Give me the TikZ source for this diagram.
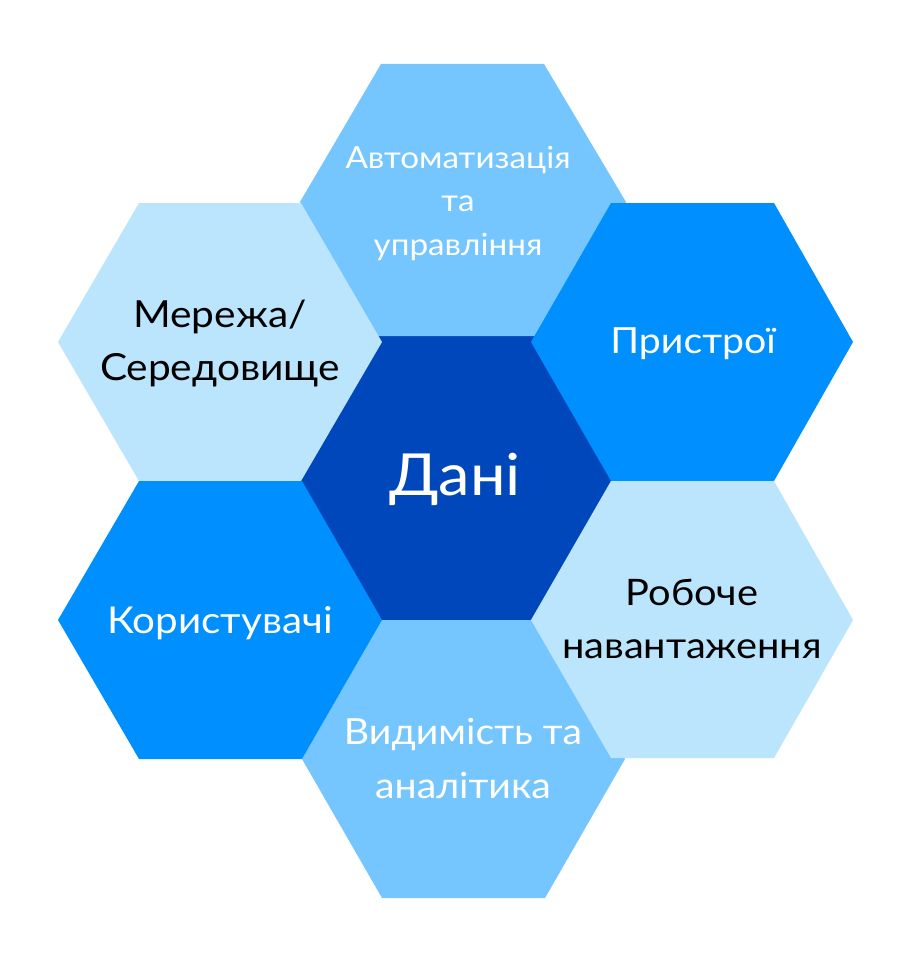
\documentclass[tikz,border=0pt]{standalone}
\usepackage{fontspec}
\setmainfont{Lato}[FakeStretch=1.09]
\definecolor{cDark}{HTML}{0047BB}
\definecolor{cMid}{HTML}{008FFF}
\definecolor{cSky}{HTML}{75C6FE}
\definecolor{cPale}{HTML}{BAE5FD}
\tikzset{
  lbl/.style={inner sep=0pt, align=center, anchor=base},
  lblW/.style={lbl, text=white},
  lblK/.style={lbl, text=black},
}
\begin{document}
\begin{tikzpicture}[x=1pt,y=-1pt]
\fill[white] (0,0) rectangle (913,966);
\useasboundingbox (0,0) rectangle (913,966);
% centre
\fill[cDark] (300,480) -- (378,336) -- (536,336) -- (614,480) -- (536,621) -- (378,621) -- cycle;
% top
\fill[cSky] (300,202) -- (381,64) -- (544,64) -- (626,202) -- (546,336) -- (376,336) -- cycle;
% bottom
\fill[cSky] (302,759) -- (382,620) -- (545,620) -- (625,759) -- (545,898) -- (382,898) -- cycle;
% upper left
\fill[cPale] (58,342) -- (139,203) -- (301,203) -- (382,342) -- (301,481) -- (139,481) -- cycle;
% lower left
\fill[cMid] (58,620) -- (139,481) -- (302,481) -- (382,620) -- (302,759) -- (139,759) -- cycle;
% upper right
\fill[cMid] (531,342) -- (611,203) -- (774,203) -- (853,342) -- (774,481) -- (611,481) -- cycle;
% lower right
\fill[cPale] (531,620) -- (611,481) -- (774,481) -- (853,620) -- (774,758) -- (611,758) -- cycle;

\node[lblW, font=\fontsize{58}{60}\selectfont] (dani) at (455,495) {Дані};
\node[lblW, font=\fontsize{30.5}{43.5}\selectfont] (avto) at (458,255) {Автоматизація\\та\\управління};
\node[lblK, font=\fontsize{37.3}{53}\selectfont] (merezha) at (220,380) {Мережа/\\Середовище};
\node[lblW, font=\fontsize{36}{40}\selectfont] (prystroi) at (693,353) {Пристрої};
\node[lblW, font=\fontsize{37}{40}\selectfont] (korystuvachi) at (220,633) {Користувачі};
\node[lblK, font=\fontsize{36.5}{53}\selectfont] (roboche) at (692,658) {Робоче\\навантаження};
\node[lblW, font=\fontsize{36}{54}\selectfont] (vydymist) at (463,798) {Видимість та\\аналітика};
\end{tikzpicture}
\end{document}
